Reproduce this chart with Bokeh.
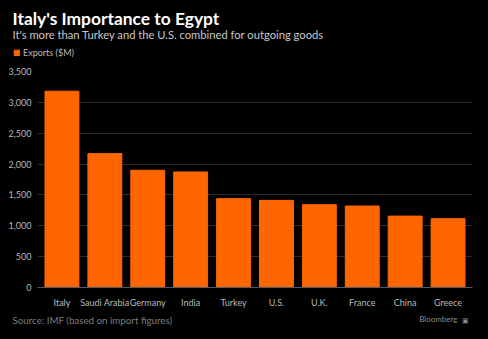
from bokeh.plotting import figure
from bokeh.layouts import column
from bokeh.models import (ColumnDataSource, Label, NumeralTickFormatter, FixedTicker,
                          Legend, LegendItem, Range1d)
from bokeh.embed import file_html
from bokeh.resources import INLINE

countries = ["Italy", "Saudi Arabia", "Germany", "India", "Turkey", "U.S.", "U.K.", "France", "China", "Greece"]
exports = [3180, 2170, 1900, 1872, 1440, 1412, 1342, 1320, 1157, 1115]
y_ticks = [0, 500, 1000, 1500, 2000, 2500, 3000, 3500]

title_text = "Italy's Importance to Egypt"
subtitle_text = "It's more than Turkey and the U.S. combined for outgoing goods"
legend_text = "Exports ($M)"
source_text = "Source: IMF (based on import figures)"
brand_text = "Bloomberg"
brand_icon = "\u25a3"

BG = "#000000"
BAR = "#ff6600"
FONT = "Lato"
W = 488


def no_align(f):
    try:
        f.frame_align = False
    except Exception:
        pass


def strip(height):
    f = figure(width=W, height=height, x_range=Range1d(0, W), y_range=Range1d(height, 0),
               output_backend="svg", toolbar_location=None, x_axis_type=None, y_axis_type=None,
               min_border=0, min_border_left=0, min_border_right=0, min_border_top=0, min_border_bottom=0)
    f.background_fill_color = BG
    f.border_fill_color = BG
    f.outline_line_color = None
    f.xgrid.visible = False
    f.ygrid.visible = False
    no_align(f)
    return f


# ---- header strip: title, subtitle, legend
top = strip(66)
top.add_layout(Label(x=12, y=28, text=title_text, text_color="#ffffff", text_font=FONT,
                     text_font_style="bold", text_font_size="17.4px"))
top.add_layout(Label(x=12, y=40.5, text=subtitle_text, text_color="#c8c8c8", text_font=FONT,
                     text_font_size="11.2px"))
# zero-size bar: only serves as the legend swatch
swatch = top.vbar(x=[0], top=[0], bottom=[0], width=0, color=BAR)
legend = Legend(items=[LegendItem(label=legend_text, renderers=[swatch], index=0)],
                location=(13, 8), orientation="horizontal",
                background_fill_alpha=0, border_line_color=None,
                label_text_color="#b8b8b8", label_text_font=FONT, label_text_font_size="9px",
                glyph_width=7, glyph_height=7, label_standoff=3, padding=0, margin=0,
                label_height=7, spacing=0)
top.add_layout(legend)

# ---- main chart
src = ColumnDataSource(dict(country=countries, exports=exports))
p = figure(width=W, height=244, x_range=countries, y_range=Range1d(0, 3500),
           output_backend="svg", toolbar_location=None,
           min_border_left=37, min_border_right=16, min_border_top=5, min_border_bottom=23)
p.background_fill_color = BG
p.border_fill_color = BG
p.outline_line_color = None
no_align(p)

p.vbar(x="country", top="exports", width=0.79, source=src, color=BAR)
p.x_range.range_padding = 0.014

p.xgrid.grid_line_color = None
p.ygrid.grid_line_color = "#2b2b2b"
p.ygrid.grid_line_width = 1

p.yaxis.ticker = FixedTicker(ticks=y_ticks)
p.yaxis.formatter = NumeralTickFormatter(format="0,0")
p.yaxis.axis_line_color = None
p.yaxis.major_tick_line_color = None
p.yaxis.minor_tick_line_color = None
p.yaxis.major_label_text_color = "#b8b8b8"
p.yaxis.major_label_text_font = FONT
p.yaxis.major_label_text_font_size = "9px"
p.yaxis.major_label_standoff = 0

p.xaxis.axis_line_color = "#5a5a5a"
p.xaxis.major_tick_line_color = None
p.xaxis.minor_tick_line_color = None
p.xaxis.major_label_text_color = "#b8b8b8"
p.xaxis.major_label_text_font = FONT
p.xaxis.major_label_text_font_size = "9px"
p.xaxis.major_label_standoff = 3

# ---- footer strip: source and brand
bot = strip(29)
bot.add_layout(Label(x=12, y=15, text=source_text, text_color="#7c7c7c", text_font=FONT,
                     text_font_size="9.75px"))
bot.add_layout(Label(x=457, y=13, text=brand_text, text_align="right", text_color="#8a8a8a",
                     text_font=FONT, text_font_size="8px"))
bot.add_layout(Label(x=461, y=13, text=brand_icon, text_color="#8a8a8a",
                     text_font=FONT, text_font_size="7px"))

layout = column(top, p, bot, spacing=0, styles={"background-color": BG})
open("out.html", "w").write(file_html(layout, INLINE))
